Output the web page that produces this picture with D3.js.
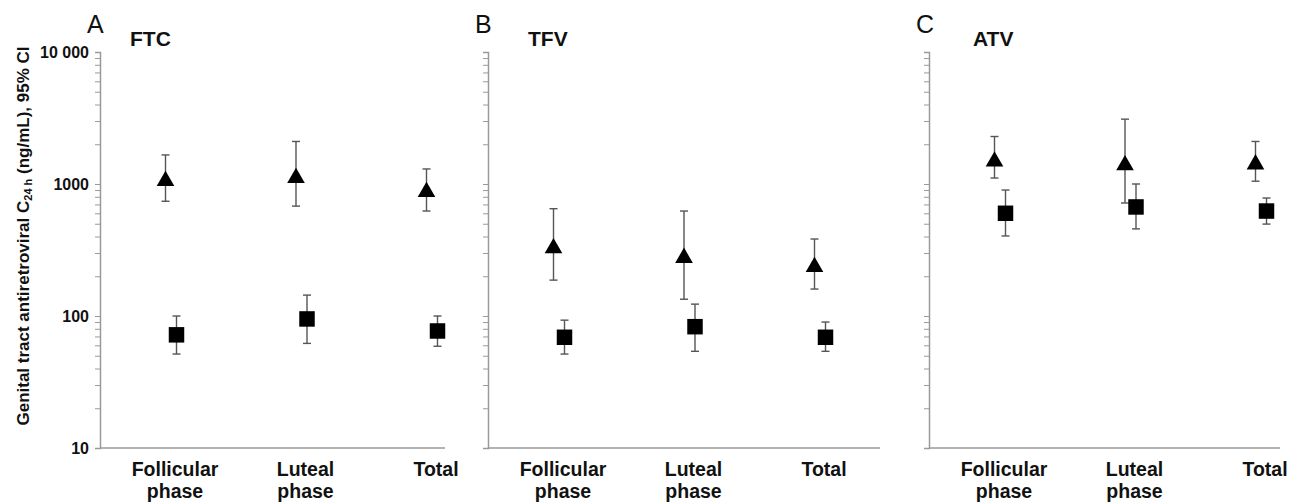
<!DOCTYPE html>
<html lang="en">
<head>
    <meta charset="UTF-8"/>
    <title>Genital tract antiretroviral C24h</title>
    <script src="https://d3js.org/d3.v7.min.js"></script>
    <style>
        body { margin: 0; background: white; }
        svg { display: block; font-family: "Liberation Sans", Arial, sans-serif; }
    </style>
</head>
<body>
<div id="chart"></div>
<script>
    // categories and panels
    const categories = ["Follicular phase", "Luteal phase", "Total"];
    const drugs = ["FTC", "TFV", "ATV"];
    const letters = ["A", "B", "C"];
    const yTickValues = [10, 100, 1000, 10000];
    const yTickLabels = ["10", "100", "1000", "10 000"];

    // triangle series (per drug, per category)
    const triMean = [[1055, 1110, 870], [327, 276, 235], [1480, 1390, 1410]];
    const triLow = [[740, 680, 624], [187, 134, 160], [1110, 718, 1050]];
    const triHigh = [[1660, 2100, 1300], [650, 624, 383], [2290, 3100, 2100]];

    // square series
    const sqMean = [[72, 95, 77], [69, 83, 69], [600, 670, 624]];
    const sqLow = [[51.5, 62, 59], [51.5, 54, 54], [404, 457, 497]];
    const sqHigh = [[100, 144, 100], [93, 123, 90], [900, 1000, 783]];

    const width = 1294;
    const height = 502;

    // panel layout: y-axis x position, x-axis end, title offset
    const panelAxisX = [100, 488, 929];
    const panelEndX = [445, 880, 1280];
    const titleOffset = [30, 40, 44];

    const svg = d3.select("#chart")
        .append("svg")
        .attr("width", width)
        .attr("height", height);

    const yScale = d3.scaleLog().domain([10, 10000]).range([448, 52]);

    // minor + major tick values
    const allTicks = [];
    for (let e = 10; e < 10000; e *= 10) {
        for (let k = 1; k < 10; k++) allTicks.push(k * e);
    }
    allTicks.push(10000);

    const axisColor = "#9a9a9a";
    const barColor = "#555";
    const capW = 4;

    drugs.forEach((drug, p) => {
        const x0 = panelAxisX[p];
        const g = svg.append("g");

        const xScale = d3.scalePoint()
            .domain(categories)
            .range([x0 + 71, x0 + 332]);

        // x axis line
        g.append("line")
            .attr("x1", x0).attr("x2", panelEndX[p])
            .attr("y1", yScale(10)).attr("y2", yScale(10))
            .attr("stroke", axisColor)
            .attr("stroke-width", 1.5);

        // y axis
        const yAxis = d3.axisLeft(yScale)
            .tickValues(allTicks)
            .tickSize(5)
            .tickPadding(6)
            .tickFormat(d => {
                const i = yTickValues.indexOf(d);
                return (p === 0 && i >= 0) ? yTickLabels[i] : "";
            });
        const ya = g.append("g")
            .attr("transform", `translate(${x0}, 0)`)
            .call(yAxis);
        ya.select(".domain").attr("stroke", axisColor).attr("stroke-width", 1.5);
        ya.selectAll(".tick line").attr("stroke", axisColor).attr("stroke-width", 1);
        ya.selectAll(".tick text")
            .style("font-family", "'Liberation Sans', Arial, sans-serif")
            .style("font-size", "16px")
            .style("font-weight", "bold")
            .attr("fill", "#111");

        // panel letter and drug title
        g.append("text")
            .attr("x", x0 - 13)
            .attr("y", 33)
            .style("font-size", "25px")
            .attr("fill", "#111")
            .text(letters[p]);
        g.append("text")
            .attr("x", x0 + titleOffset[p])
            .attr("y", 46)
            .style("font-size", "21px")
            .style("font-weight", "bold")
            .attr("fill", "#111")
            .text(drug);

        // category labels
        const lab = g.selectAll(".cat")
            .data(categories)
            .join("text")
            .attr("class", "cat")
            .attr("x", d => xScale(d) + 4)
            .attr("y", 476)
            .attr("text-anchor", "middle")
            .style("font-size", "19.5px")
            .style("font-weight", "bold")
            .attr("fill", "#111");
        lab.each(function (d) {
            const words = d.split(" ");
            d3.select(this).selectAll("tspan")
                .data(words)
                .join("tspan")
                .attr("x", xScale(d) + 4)
                .attr("dy", (w, i) => i === 0 ? 0 : 22)
                .text(w => w);
        });

        // build series rows
        const series = [
            {shape: "tri", dx: -5.5, mean: triMean[p], lo: triLow[p], hi: triHigh[p]},
            {shape: "sq", dx: 5.5, mean: sqMean[p], lo: sqLow[p], hi: sqHigh[p]}
        ];

        series.forEach(s => {
            const rows = categories.map((c, i) => ({cat: c, mean: s.mean[i], lo: s.lo[i], hi: s.hi[i]}));
            const px = d => xScale(d.cat) + s.dx;

            const eb = g.append("g").selectAll("g")
                .data(rows)
                .join("g")
                .attr("stroke", barColor)
                .attr("stroke-width", 1.4);
            eb.append("line")
                .attr("x1", px).attr("x2", px)
                .attr("y1", d => yScale(d.lo)).attr("y2", d => yScale(d.hi));
            eb.append("line")
                .attr("x1", d => px(d) - capW).attr("x2", d => px(d) + capW)
                .attr("y1", d => yScale(d.hi)).attr("y2", d => yScale(d.hi));
            eb.append("line")
                .attr("x1", d => px(d) - capW).attr("x2", d => px(d) + capW)
                .attr("y1", d => yScale(d.lo)).attr("y2", d => yScale(d.lo));

            const sym = s.shape === "tri"
                ? d3.symbol().type(d3.symbolTriangle).size(135)
                : d3.symbol().type(d3.symbolSquare).size(240);
            g.append("g").selectAll("path")
                .data(rows)
                .join("path")
                .attr("d", sym)
                .attr("transform", d => `translate(${px(d)}, ${yScale(d.mean)})`)
                .attr("fill", "#000");
        });
    });

    // shared y label
    svg.append("text")
        .attr("transform", "translate(29, 236) rotate(-90)")
        .attr("text-anchor", "middle")
        .style("font-size", "17px")
        .style("font-weight", "bold")
        .attr("fill", "#111")
        .text("Genital tract antiretroviral C")
        .append("tspan")
        .style("font-size", "11px")
        .attr("dy", 3)
        .text("24 h")
        .append("tspan")
        .attr("dy", -3)
        .style("font-size", "17px")
        .text(" (ng/mL), 95% CI");
</script>
</body>
</html>
